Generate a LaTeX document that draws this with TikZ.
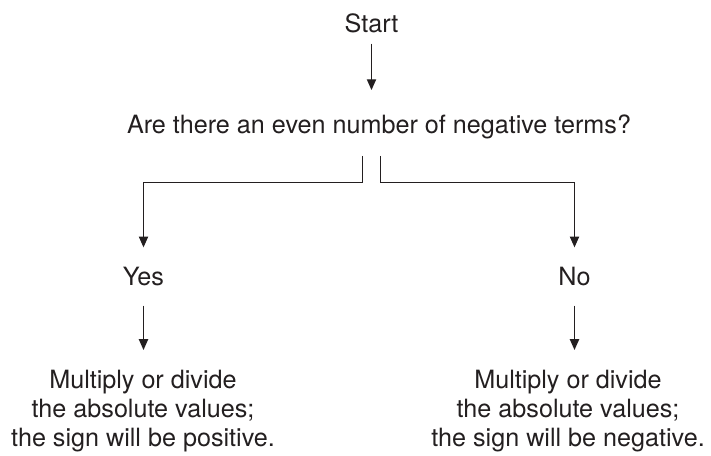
\documentclass[tikz,border=0pt]{standalone}
\usepackage{fontspec}
\setmainfont{TeX Gyre Heros}
\usetikzlibrary{arrows.meta, positioning, calc}
\definecolor{inkGray}{RGB}{35, 31, 32}

\begin{document}
\begin{tikzpicture}[
    x=0.025cm, y=-0.025cm,
    term/.style={inner sep=0pt, anchor=base, font=\fontsize{17.9}{20.4}\selectfont, text=inkGray},
    outcome/.style={inner sep=0pt, anchor=north, align=center, font=\fontsize{17.9}{20.4}\selectfont, text=inkGray},
    flow/.style={-{Triangle[length=2.7mm, width=2.3mm]}, line width=1pt, draw=inkGray}
]
    \useasboundingbox (0,0) rectangle (711,455);

    % Row 1: start and the question
    \node[term] (start) at (371.5,32) {Start};
    \node[term] (query) at (379,133) {Are there an even number of negative terms?};

    % Row 2: the two answers
    \node[term] (yes) at (143.5,285) {Yes};
    \node[term] (no) at (574.5,285) {No};

    % Row 3: what to do
    \node[outcome] (posrule) at (143,370) {Multiply or divide\\the absolute values;\\the sign will be positive.};
    \node[outcome] (negrule) at (568,370) {Multiply or divide\\the absolute values;\\the sign will be negative.};

    % Connections
    \draw[flow] ($(start.south)+(0,11)$) -- ($(start.south |- query.north)+(0,-24)$);
    \draw[flow] ($(start.south |- query.south)+(-9,17)$) -- ++(0,27) -| ($(yes.north)+(0,-19)$);
    \draw[flow] ($(start.south |- query.south)+(9,17)$) -- ++(0,27) -| ($(no.north)+(0,-19)$);
    \draw[flow] ($(yes.south)+(0,20)$) -- ($(yes.south |- posrule.north)+(0,-20)$);
    \draw[flow] ($(no.south)+(0,20)$) -- ($(no.south |- negrule.north)+(0,-20)$);
\end{tikzpicture}
\end{document}
